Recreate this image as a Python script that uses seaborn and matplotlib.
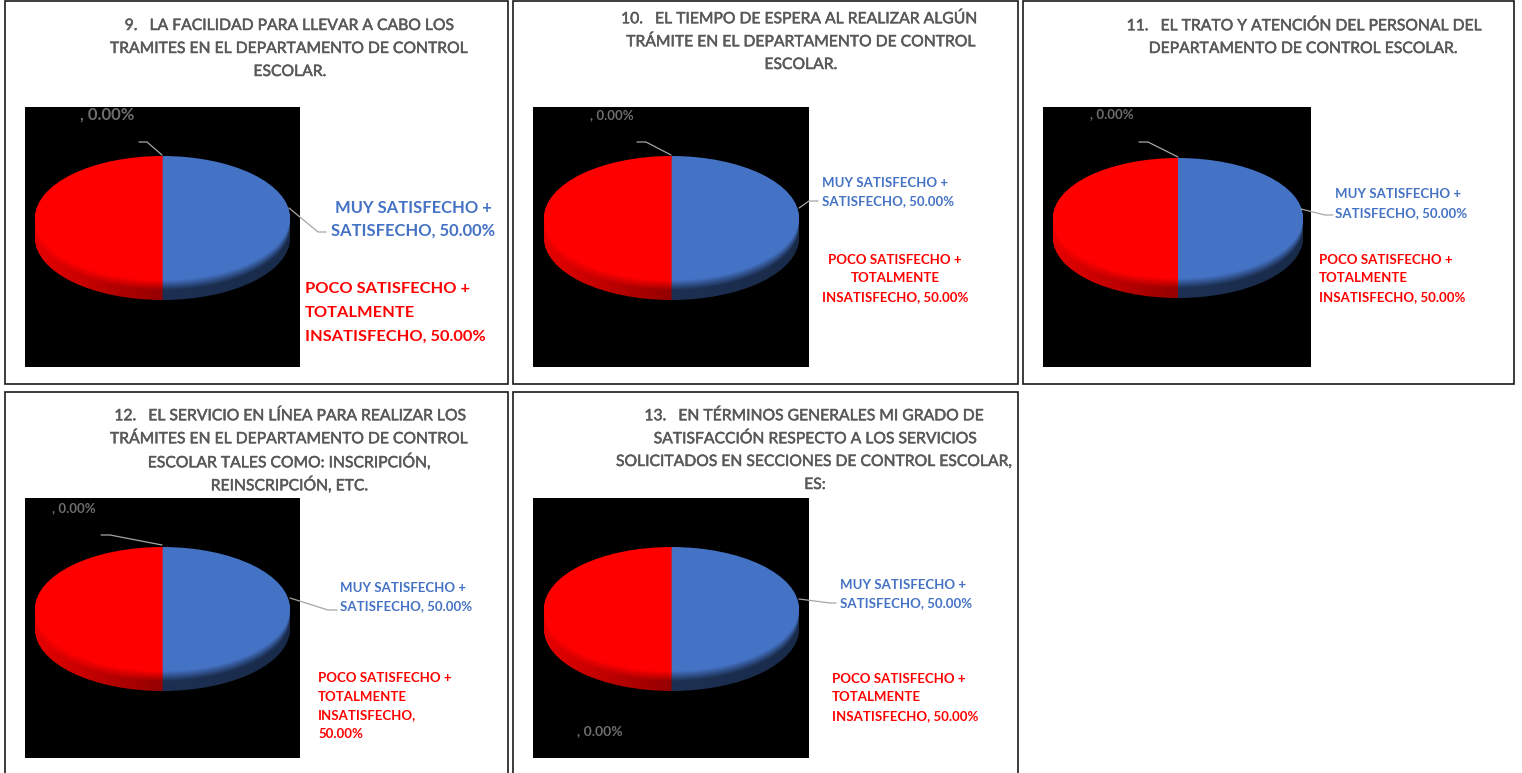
import numpy as np
import matplotlib
matplotlib.use("Agg")
import matplotlib.pyplot as plt
import matplotlib.patheffects as pe
from matplotlib.patches import Rectangle
import seaborn as sns

sns.set_theme(style="white")
plt.rcParams['font.family'] = ['Lato', 'DejaVu Sans']

# ---- data ----
categories = ["MUY SATISFECHO + SATISFECHO", "POCO SATISFECHO + TOTALMENTE INSATISFECHO", ""]
shares_q9 = [50.0, 50.0, 0.0]
shares_q10 = [50.0, 50.0, 0.0]
shares_q11 = [50.0, 50.0, 0.0]
shares_q12 = [50.0, 50.0, 0.0]
shares_q13 = [50.0, 50.0, 0.0]
all_shares = [shares_q9, shares_q10, shares_q11, shares_q12, shares_q13]

titles = [
    ["9.   LA FACILIDAD PARA LLEVAR A CABO LOS", "TRAMITES EN EL DEPARTAMENTO DE CONTROL", "ESCOLAR."],
    ["10.   EL TIEMPO DE ESPERA AL REALIZAR ALGÚN", "TRÁMITE EN EL DEPARTAMENTO DE CONTROL", "ESCOLAR."],
    ["11.   EL TRATO Y ATENCIÓN DEL PERSONAL DEL", "DEPARTAMENTO DE CONTROL ESCOLAR."],
    ["12.   EL SERVICIO EN LÍNEA PARA REALIZAR LOS", "TRÁMITES EN EL DEPARTAMENTO DE CONTROL",
     "ESCOLAR TALES COMO: INSCRIPCIÓN,", "REINSCRIPCIÓN, ETC."],
    ["13.   EN TÉRMINOS GENERALES MI GRADO DE", "SATISFACCIÓN RESPECTO A LOS SERVICIOS",
     "SOLICITADOS EN SECCIONES DE CONTROL ESCOLAR,", "ES:"],
]
blue_labels = [["MUY SATISFECHO +", "SATISFECHO, 50.00%"]] * 5
red_labels = [
    ["POCO SATISFECHO +", "TOTALMENTE", "INSATISFECHO, 50.00%"],
    ["POCO SATISFECHO +", "TOTALMENTE", "INSATISFECHO, 50.00%"],
    ["POCO SATISFECHO +", "TOTALMENTE", "INSATISFECHO, 50.00%"],
    ["POCO SATISFECHO +", "TOTALMENTE", "INSATISFECHO,", "50.00%"],
    ["POCO SATISFECHO +", "TOTALMENTE", "INSATISFECHO, 50.00%"],
]
zero_label = ", 0.00%"

# ---- layout (pixels) ----
W, H = 1522, 773
frames = [(5, 1, 508, 384), (513, 1, 1018, 384), (1023, 1, 1514, 384), (5, 392, 508, 790), (513, 392, 1018, 790)]
blacks = [(25, 107, 300, 367), (533, 107, 809, 367), (1043, 107, 1311, 367), (25, 498, 300, 758), (533, 498, 809, 758)]
ellipses = [(35, 290, 156, 300), (544, 799, 156, 300), (1053, 1303, 158, 298), (35, 290, 547, 691), (544, 799, 547, 691)]
title_cx = [[290, 290, 290], [800, 802, 801], [1305, 1304], [291, 290, 290, 290], [815, 816, 815, 815]]
title_y = [[26, 49, 72], [19, 42, 65], [26, 49], [416, 439, 462, 485], [416, 439, 462, 485]]
title_fs = 11.3
blue_pos = [(413, [208, 231], 11.9, 'center'), (822, [183, 201], 9.5, 'left'), (1335, [194, 213], 9.5, 'left'),
            (340, [588, 606], 9.5, 'left'), (840, [585, 603], 9.5, 'left')]
red_pos = [(305, [289, 313, 337], 11.8), (895, [260, 278, 297], 9.5), (1319, [260, 278, 297], 9.5),
           (318, [678, 697, 715, 734], 9.5), (832, [679, 697, 716], 9.5)]
red_align = ['left', 'center', 'left', 'left', 'left']
zero_pos = [(80, 115, 12.0), (590, 115, 9.5), (1090, 114, 9.5), (52, 508, 9.5), (577, 731, 10.0)]
leaders = [
    [[(139, 142), (147, 142), (162, 155)], [(289, 208), (318, 232), (326, 232)]],
    [[(637, 142), (646, 142), (671, 155)], [(799, 208), (809, 201), (818, 201)]],
    [[(1139, 142), (1148, 142), (1178, 157)], [(1301, 209), (1325, 215), (1333, 215)]],
    [[(101, 535), (110, 535), (162, 545)], [(290, 598), (328, 610), (337, 610)]],
    [[(799, 599), (830, 603), (836, 603)]],
]

BLUE, RED = "#4472C4", "#FF0000"
TITLE_C, ZERO_C, LINE_C = "#595959", "#6E6E6E", "#A6A6A6"
DEPTH_PX = 20
embolden = [pe.withStroke(linewidth=0.35, foreground=TITLE_C)]

fig = plt.figure(figsize=(W / 100, H / 100), dpi=100, facecolor="white")
bg = fig.add_axes([0, 0, 1, 1], zorder=0)
bg.set_xlim(0, W); bg.set_ylim(H, 0); bg.axis("off")
top = fig.add_axes([0, 0, 1, 1], zorder=5)
top.set_xlim(0, W); top.set_ylim(H, 0); top.axis("off"); top.patch.set_alpha(0)

for (x0, y0, x1, y1) in frames:
    bg.add_patch(Rectangle((x0, y0), x1 - x0, y1 - y0, fc="white", ec="#1a1a1a", lw=1.2))
for (x0, y0, x1, y1) in blacks:
    bg.add_patch(Rectangle((x0, y0), x1 - x0, y1 - y0, fc="black", ec="none"))


def draw_pie(values, box):
    xl, xr, yt, yb = box
    ax = fig.add_axes([xl / W, 1 - yb / H, (xr - xl) / W, (yb - yt) / H], zorder=2)
    ax.patch.set_alpha(0)
    ry_px = ((yb - yt) - DEPTH_PX) / 2
    d = DEPTH_PX / ry_px
    # extruded side: same slices repeated downward
    for s in np.linspace(1, 0.05, 24):
        ax.pie(values, colors=[BLUE, RED, "#808080"], startangle=90, counterclock=False,
               radius=1, center=(0, -d * s), wedgeprops=dict(linewidth=0))
    # shading of the side
    nx, ny = 520, 200
    xs = np.linspace(-1, 1, nx)
    ys = np.linspace(1, -1 - d, ny)
    X, Y = np.meshgrid(xs, ys)
    edge = -np.sqrt(np.clip(1 - X ** 2, 0, 1))
    t = (edge - Y) / d
    ramp = np.clip((t - 0.02) / 0.5, 0, 1)
    alpha_red = (0.10 + 0.32 * (1 - np.abs(X))) * ramp
    alpha_blue = (0.58 + 0.05 * X) * ramp
    alpha = np.where(X < 0, alpha_red, alpha_blue)
    alpha = np.where(t < 0, 0, alpha)
    rgba = np.zeros((ny, nx, 4))
    rgba[..., 3] = np.clip(alpha, 0, 1)
    ax.imshow(rgba, extent=(-1, 1, -1 - d, 1), aspect="auto", zorder=3, interpolation="bilinear")
    # top face
    ax.pie(values, colors=[BLUE, RED, "#808080"], startangle=90, counterclock=False,
           radius=1, center=(0, 0), wedgeprops=dict(linewidth=0, zorder=4))
    ax.set_aspect("auto")
    ax.set_xlim(-1, 1)
    ax.set_ylim(-1 - d, 1)
    ax.axis("off")


for i, vals in enumerate(all_shares):
    draw_pie(vals, ellipses[i])
    for line, cx, y in zip(titles[i], title_cx[i], title_y[i]):
        top.text(cx, y, line, ha="center", va="center", fontsize=title_fs, color=TITLE_C, path_effects=embolden)
    bx, bys, bfs, bal = blue_pos[i]
    for line, y in zip(blue_labels[i], bys):
        top.text(bx, y, line, ha=bal, va="center", fontsize=bfs, color=BLUE, fontweight="bold")
    rx, rys, rfs = red_pos[i]
    for line, y in zip(red_labels[i], rys):
        top.text(rx, y, line, ha=red_align[i], va="center", fontsize=rfs, color=RED, fontweight="bold")
    zx, zy, zfs = zero_pos[i]
    top.text(zx, zy, zero_label, ha="left", va="center", fontsize=zfs, color=ZERO_C, fontweight="bold")
    for pts in leaders[i]:
        top.plot([p[0] for p in pts], [p[1] for p in pts], color=LINE_C, lw=0.9)

fig.savefig("out.png", dpi=100)
